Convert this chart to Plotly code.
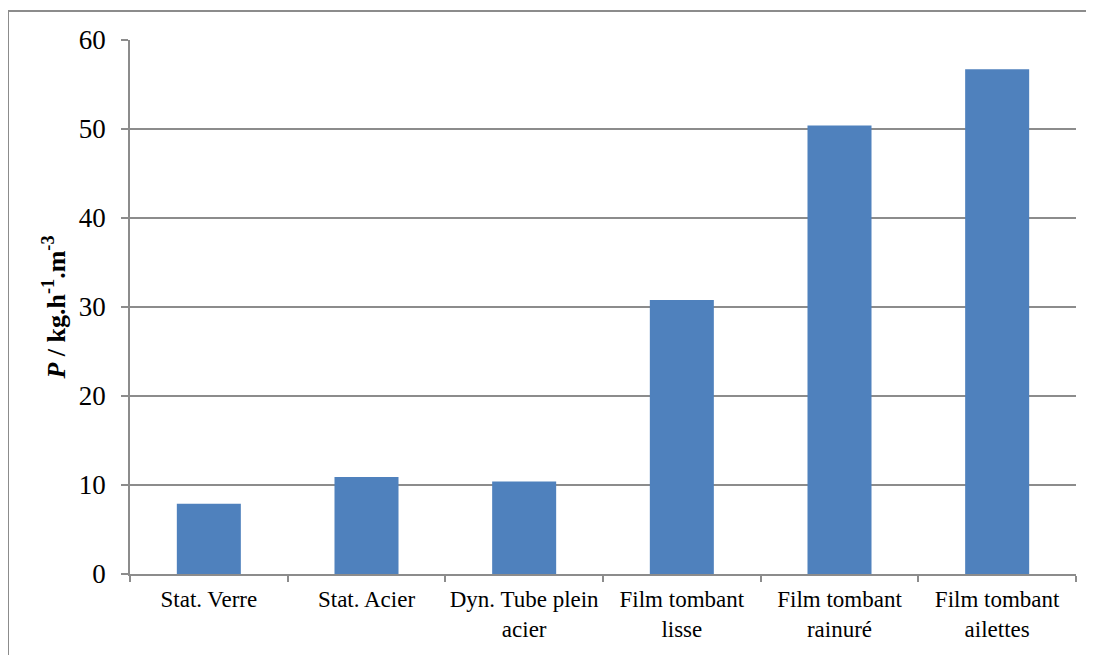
import plotly.graph_objects as go

categories = ["Stat. Verre", "Stat. Acier", "Dyn. Tube plein<br>acier",
              "Film tombant<br>lisse", "Film tombant<br>rainuré", "Film tombant<br>ailettes"]
values = [7.9, 10.9, 10.4, 30.8, 50.4, 56.7]
y_ticks = [0, 10, 20, 30, 40, 50, 60]

# page body has an 8px margin, so the figure sits at (8, 8)
OFF = 8
W, H = 1094 - OFF, 655 - OFF
L, R, T, B = 130 - OFF, 18, 40 - OFF, 81
pw, ph = W - L - R, H - T - B

fig = go.Figure(go.Bar(x=categories, y=values, marker=dict(color="#4F81BD", line=dict(width=0))))

axis_col = "#8C8C8C"
font_family = "Liberation Serif"

fig.update_layout(
    width=W, height=H,
    margin=dict(l=L, r=R, t=T, b=B),
    paper_bgcolor="white", plot_bgcolor="white",
    bargap=0.594,
    showlegend=False,
    font=dict(family=font_family, color="black"),
    xaxis=dict(
        type="category", automargin=False, tickangle=0,
        showline=True, linecolor=axis_col, linewidth=1.5,
        ticks="outside", tickson="boundaries", ticklen=6, tickcolor=axis_col, tickwidth=1.5,
        tickfont=dict(size=23, family=font_family),
        ticklabelstandoff=4,
        showgrid=False,
    ),
    yaxis=dict(
        range=[0, 60], tickvals=y_ticks, automargin=False,
        showline=True, linecolor=axis_col, linewidth=1.5,
        ticks="outside", ticklen=7, tickcolor=axis_col, tickwidth=1.5,
        tickfont=dict(size=27, family=font_family),
        ticklabelstandoff=10,
        showgrid=True, gridcolor=axis_col, gridwidth=1.5,
        zeroline=False,
        title=dict(text="<b><i>P</i> / kg.h<sup>-1</sup>.m<sup>-3</sup></b>",
                   font=dict(size=26, family=font_family), standoff=6),
    ),
    shapes=[dict(type="rect", xref="paper", yref="paper",
                 x0=(8 - 130) / pw, x1=1.2, y0=-0.5, y1=(574 - 11) / ph,
                 line=dict(color="#8C8C8C", width=2), fillcolor="rgba(0,0,0,0)", layer="below")],
)

fig.write_html("out.html")
